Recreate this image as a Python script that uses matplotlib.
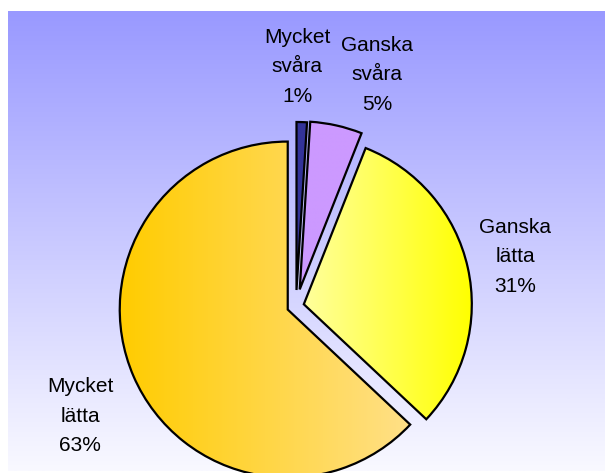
import numpy as np
import matplotlib.pyplot as plt
from matplotlib.colors import LinearSegmentedColormap

# data
categories = ["Mycket\nsvåra", "Ganska\nsvåra", "Ganska\nlätta", "Mycket\nlätta"]
shares = [1, 5, 31, 63]

# styling
explode = [16, 17, 8, 9]   # pie explode is in data units (pixels here)
fills = [
    ("#333399", "#333399"),
    ("#CC99FF", "#CC99FF"),
    ("#FFFF9C", "#FFFF00"),
    ("#FFCC00", "#FFE088"),
]
# label centres in image pixels (x, y from top)
label_px = [(297, 67), (377, 75), (515, 257), (80, 416)]

W, H = 605, 473
fig = plt.figure(figsize=(W / 100, H / 100), dpi=100)
ax = fig.add_axes([0, 0, 1, 1])

# background gradient frame
bg = LinearSegmentedColormap.from_list("bg", ["#9999FF", "#F9F9FF"])
ax.imshow(np.linspace(0, 1, 256).reshape(-1, 1), cmap=bg, extent=(8, W, 2, H - 12),
          aspect="auto", zorder=0, interpolation="bilinear")

wedges, _ = ax.pie(shares, explode=explode, startangle=90, counterclock=False,
                   center=(296, H - 306), radius=168,
                   wedgeprops=dict(edgecolor="black", linewidth=1.6))

for w, (c1, c2) in zip(wedges, fills):
    x0, y0, x1, y1 = w.get_path().get_extents().extents
    cmap = LinearSegmentedColormap.from_list("g", [c1, c2])
    im = ax.imshow(np.linspace(0, 1, 256).reshape(1, -1), cmap=cmap,
                   extent=(x0, x1, y0, y1), aspect="auto", zorder=1.5,
                   interpolation="bilinear")
    im.set_clip_path(w)
    w.set_facecolor("none")
    w.set_zorder(2)

for name, share, (px, py) in zip(categories, shares, label_px):
    ax.text(px, H - py, f"{name}\n{share}%", ha="center", va="center",
            fontsize=15, linespacing=1.7, color="black",
            family=["Liberation Sans Narrow", "Liberation Sans", "DejaVu Sans"])

ax.set_xlim(0, W)
ax.set_ylim(0, H)
ax.set_aspect("auto")
ax.axis("off")

fig.savefig("out.png", dpi=100)
